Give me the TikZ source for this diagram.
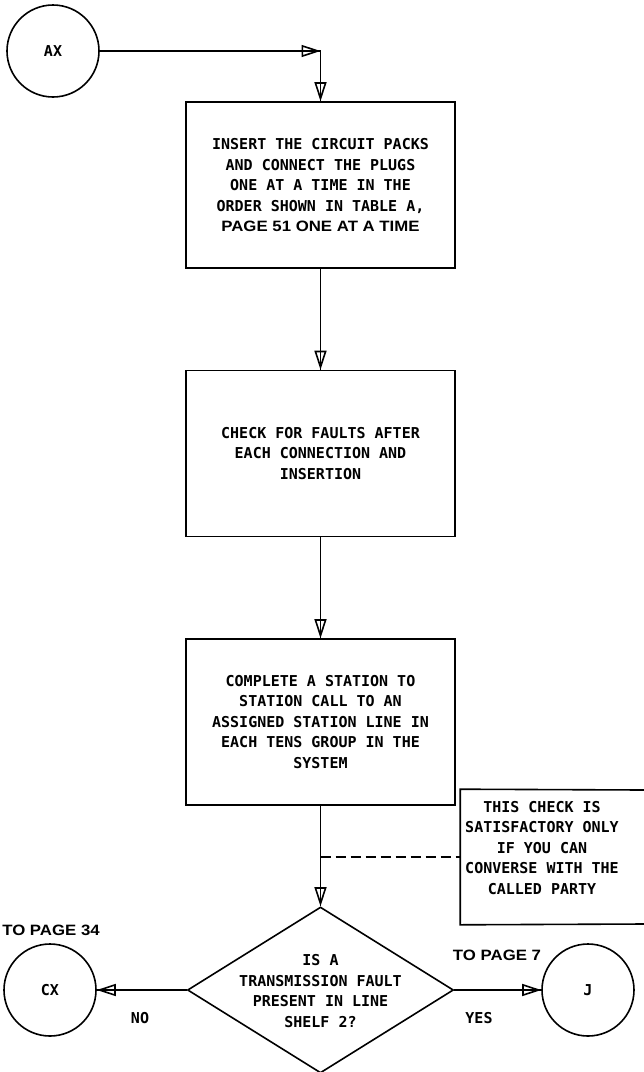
\documentclass[tikz,border=0pt]{standalone}
\usepackage{fontspec}
\setmainfont{DejaVu Sans Mono}
\newfontface\flowface{DejaVu Sans Mono Bold}
\newfontface\lblbold{Liberation Sans Bold}[FakeStretch=1.12]
\usetikzlibrary{arrows.meta,shapes.geometric}
\newcommand\flowfont{\flowface\fontsize{15pt}{20.5pt}\selectfont}
\newcommand\flowarrow[2]{\draw (#1) -- (#2); \draw[tip] (#1) -- (#2);}
\begin{document}
\begin{tikzpicture}[x=1pt,y=-1pt,line width=1.6pt,
  proc/.style={draw, rectangle, minimum width=269pt, minimum height=166pt, inner sep=0pt, align=center, font=\flowfont},
  conn/.style={draw, circle, minimum size=92pt, inner sep=0pt, font=\flowfont},
  tip/.style={-{Triangle[open,length=19pt,width=12pt]}},
  lbl/.style={font={\lblbold\fontsize{15pt}{18pt}\selectfont}},
  plain/.style={font=\flowfont, align=center, inner sep=0pt}]
\useasboundingbox (0,0) rectangle (644,1072);
\fill[white] (0,0) rectangle (644,1072);
% nodes
\node[conn] (ax) at (53,51) {AX};
\node[proc] (b1) at (320.5,185) {INSERT THE CIRCUIT PACKS\\AND CONNECT THE PLUGS\\ONE AT A TIME IN THE\\ORDER SHOWN IN TABLE A,\\{\lblbold\fontsize{15pt}{20.5pt}\selectfont PAGE 51 ONE AT A TIME}};
\node[proc] (b2) at (320.5,453.5) {CHECK FOR FAULTS AFTER\\EACH CONNECTION AND\\INSERTION};
\node[proc] (b3) at (320.5,722) {COMPLETE A STATION TO\\STATION CALL TO AN\\ASSIGNED STATION LINE IN\\EACH TENS GROUP IN THE\\SYSTEM};
\node[diamond, draw, minimum width=266pt, minimum height=166pt, inner sep=0pt] (dec) at (320.5,990) {};
\node[plain] (dect) at (320.5,991) {IS A\\TRANSMISSION FAULT\\PRESENT IN LINE\\SHELF 2?};
\node[conn] (cx) at (50,990) {CX};
\node[conn] (j) at (588,990) {J};
\node[minimum width=162pt, minimum height=134pt, inner sep=0pt] (note) at (542,857) {};
\node[plain] (notet) at (542,848) {THIS CHECK IS\\SATISFACTORY ONLY\\IF YOU CAN\\CONVERSE WITH THE\\CALLED PARTY};
\draw (644,790) -- (note.north west) -- (note.south west) -- (644,924);
\node[lbl] (p34) at (51,930) {TO PAGE 34};
\node[lbl] (p7) at (497,955) {TO PAGE 7};
\node[plain] (no) at (140,1018) {NO};
\node[plain] (yes) at (479,1018) {YES};
% connectors
\coordinate (corner) at (b1.north |- ax.east);
\flowarrow{ax.east}{corner}
\flowarrow{corner}{b1.north}
\flowarrow{b1.south}{b2.north}
\flowarrow{b2.south}{b3.north}
\flowarrow{b3.south}{dec.north}
\coordinate (dj) at (b3.south |- note.west);
\draw[dash pattern=on 10pt off 5pt] (dj) -- (note.west);
\flowarrow{dec.west}{cx.east}
\flowarrow{dec.east}{j.west}
\end{tikzpicture}
\end{document}
